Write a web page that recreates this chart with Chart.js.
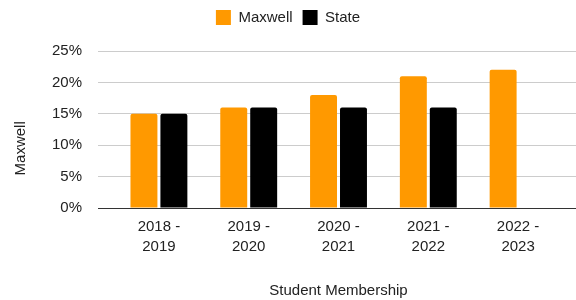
<!DOCTYPE html>
<html lang="en">
<head>
    <meta charset="UTF-8">
    <title>Student Membership</title>
    <style>
        body {
            margin: 0;
            background-color: white;
        }
        #box {
            width: 576px;
            height: 300px;
        }
    </style>
</head>
<body>
    <div id="box"><canvas id="membershipChart"></canvas></div>
    <script src="https://cdn.jsdelivr.net/npm/chart.js"></script>
    <script>
        const years = [['2018 -', '2019'], ['2019 -', '2020'], ['2020 -', '2021'], ['2021 -', '2022'], ['2022 -', '2023']];
        const maxwell = [15, 16, 18, 21, 22];
        const state = [15, 16, 16, 16, null];
        const yTicks = [0, 5, 10, 15, 20, 25];

        Chart.defaults.font.family = '"Liberation Sans", Arial, sans-serif';
        Chart.defaults.font.size = 15;
        Chart.defaults.color = '#222';

        // push the plot down a bit below the legend
        const legendGap = {
            id: 'legendGap',
            beforeInit(chart) {
                const fit = chart.legend.fit;
                chart.legend.fit = function() {
                    fit.bind(chart.legend)();
                    this.height += 16;
                };
            }
        };

        const gridColor = ctx => ctx.tick && ctx.tick.value === 0 ? '#333' : '#ccc';

        new Chart(document.getElementById('membershipChart'), {
            type: 'bar',
            data: {
                labels: years,
                datasets: [
                    { label: 'Maxwell', data: maxwell, backgroundColor: '#ff9900', borderRadius: 2, borderSkipped: 'bottom' },
                    { label: 'State', data: state, backgroundColor: '#000000', borderRadius: 2, borderSkipped: 'bottom' }
                ]
            },
            options: {
                responsive: true,
                maintainAspectRatio: false,
                animation: false,
                categoryPercentage: 0.667,
                barPercentage: 0.9,
                scales: {
                    x: {
                        grid: { display: false, drawTicks: false },
                        border: { display: false },
                        ticks: { padding: 9, font: { lineHeight: 1.33 }, maxRotation: 0 },
                        title: { display: true, text: 'Student Membership', padding: { top: 16, bottom: 0 } }
                    },
                    y: {
                        min: 0,
                        max: 25,
                        afterBuildTicks: scale => { scale.ticks = yTicks.map(v => ({ value: v })); },
                        border: { display: false },
                        grid: { color: gridColor, tickLength: 16 },
                        ticks: { padding: 16, callback: v => v + '%' },
                        // trailing spaces move the word down to the middle of the page
                        title: { display: true, text: 'Maxwell' + ' '.repeat(9), padding: { top: 12, bottom: 6 } }
                    },
                    y2: {
                        position: 'right',
                        min: 0,
                        max: 25,
                        afterBuildTicks: scale => { scale.ticks = yTicks.map(v => ({ value: v })); },
                        border: { display: false },
                        grid: { color: gridColor, tickLength: 13, drawOnChartArea: false },
                        ticks: { display: false }
                    }
                },
                plugins: {
                    legend: {
                        labels: { boxWidth: 15, boxHeight: 15, padding: 10 }
                    },
                    tooltip: { enabled: false }
                }
            },
            plugins: [legendGap]
        });
    </script>
</body>
</html>
